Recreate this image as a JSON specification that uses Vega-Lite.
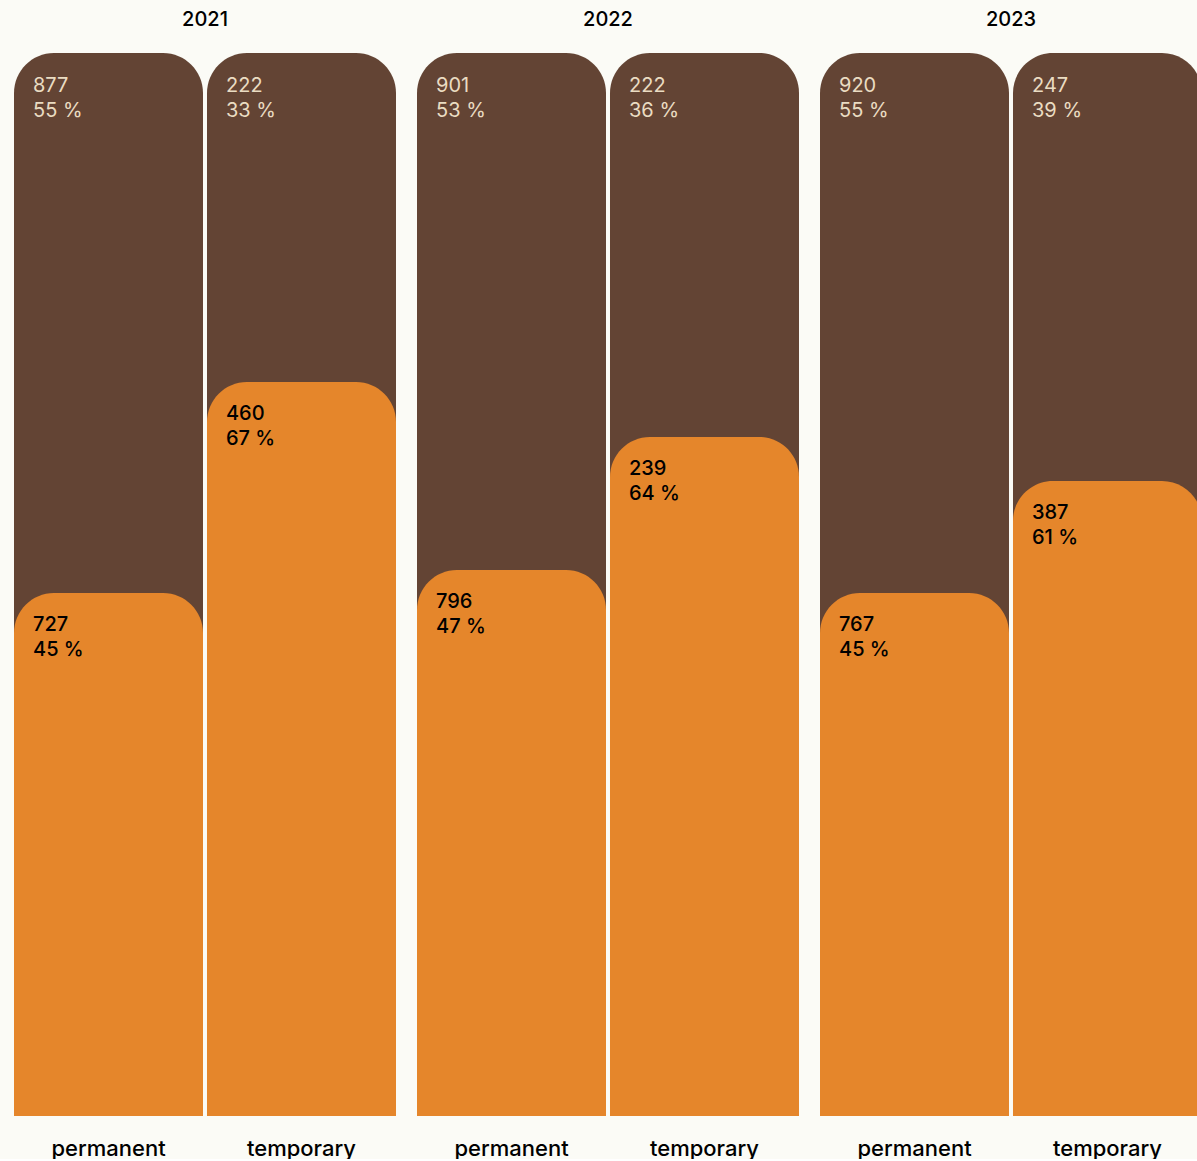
{
  "$schema": "https://vega.github.io/schema/vega-lite/v6.json",
  "background": "#fbfbf6",
  "padding": {"left": 14, "top": 10, "right": 0, "bottom": 0},
  "config": {"view": {"stroke": null}, "font": "Inter"},
  "data": {
    "values": [
      {"year": "2021", "type": "permanent", "share": 0.492, "top_n": "877", "top_pct": "55 %", "bottom_n": "727", "bottom_pct": "45 %"},
      {"year": "2021", "type": "temporary", "share": 0.6905, "top_n": "222", "top_pct": "33 %", "bottom_n": "460", "bottom_pct": "67 %"},
      {"year": "2022", "type": "permanent", "share": 0.5136, "top_n": "901", "top_pct": "53 %", "bottom_n": "796", "bottom_pct": "47 %"},
      {"year": "2022", "type": "temporary", "share": 0.6388, "top_n": "222", "top_pct": "36 %", "bottom_n": "239", "bottom_pct": "64 %"},
      {"year": "2023", "type": "permanent", "share": 0.492, "top_n": "920", "top_pct": "55 %", "bottom_n": "767", "bottom_pct": "45 %"},
      {"year": "2023", "type": "temporary", "share": 0.5974, "top_n": "247", "top_pct": "39 %", "bottom_n": "387", "bottom_pct": "61 %"}
    ]
  },
  "facet": {
    "column": {
      "field": "year",
      "type": "ordinal",
      "header": {
        "title": null,
        "labelOrient": "top",
        "labelFontSize": 20,
        "labelFont": "Inter",
        "labelFontWeight": 500,
        "labelColor": "#000000",
        "labelBaseline": "alphabetic",
        "labelPadding": 7
      }
    }
  },
  "spacing": 21,
  "spec": {
    "width": 382,
    "height": 1063,
    "encoding": {
      "x": {
        "field": "type",
        "type": "nominal",
        "scale": {"paddingInner": 0.0207, "paddingOuter": 0},
        "axis": {
          "title": null,
          "domain": false,
          "ticks": false,
          "labelAngle": 0,
          "labelFont": "Inter",
          "labelFontSize": 22,
          "labelFontWeight": 500,
          "labelColor": "#000000",
          "labelBaseline": "alphabetic",
          "labelPadding": 39
        }
      }
    },
    "layer": [
      {
        "mark": {"type": "bar", "color": "#634434", "cornerRadiusTopLeft": 40, "cornerRadiusTopRight": 40},
        "encoding": {
          "y": {"datum": 1, "type": "quantitative", "scale": {"domain": [0, 1], "nice": false}, "axis": null}
        }
      },
      {
        "mark": {"type": "bar", "color": "#e5862b", "cornerRadiusTopLeft": 40, "cornerRadiusTopRight": 40},
        "encoding": {
          "y": {"field": "share", "type": "quantitative", "stack": null, "axis": null}
        }
      },
      {
        "mark": {"type": "text", "align": "left", "baseline": "alphabetic", "dx": 19, "dy": 39, "fontSize": 20, "color": "#eadcc2"},
        "encoding": {
          "x": {"field": "type", "type": "nominal", "bandPosition": 0},
          "y": {"datum": 1, "type": "quantitative"},
          "text": {"field": "top_n"}
        }
      },
      {
        "mark": {"type": "text", "align": "left", "baseline": "alphabetic", "dx": 19, "dy": 64, "fontSize": 20, "color": "#eadcc2"},
        "encoding": {
          "x": {"field": "type", "type": "nominal", "bandPosition": 0},
          "y": {"datum": 1, "type": "quantitative"},
          "text": {"field": "top_pct"}
        }
      },
      {
        "mark": {"type": "text", "align": "left", "baseline": "alphabetic", "dx": 19, "dy": 38, "fontSize": 20, "fontWeight": 500, "color": "#000000"},
        "encoding": {
          "x": {"field": "type", "type": "nominal", "bandPosition": 0},
          "y": {"field": "share", "type": "quantitative"},
          "text": {"field": "bottom_n"}
        }
      },
      {
        "mark": {"type": "text", "align": "left", "baseline": "alphabetic", "dx": 19, "dy": 63, "fontSize": 20, "fontWeight": 500, "color": "#000000"},
        "encoding": {
          "x": {"field": "type", "type": "nominal", "bandPosition": 0},
          "y": {"field": "share", "type": "quantitative"},
          "text": {"field": "bottom_pct"}
        }
      }
    ]
  }
}
